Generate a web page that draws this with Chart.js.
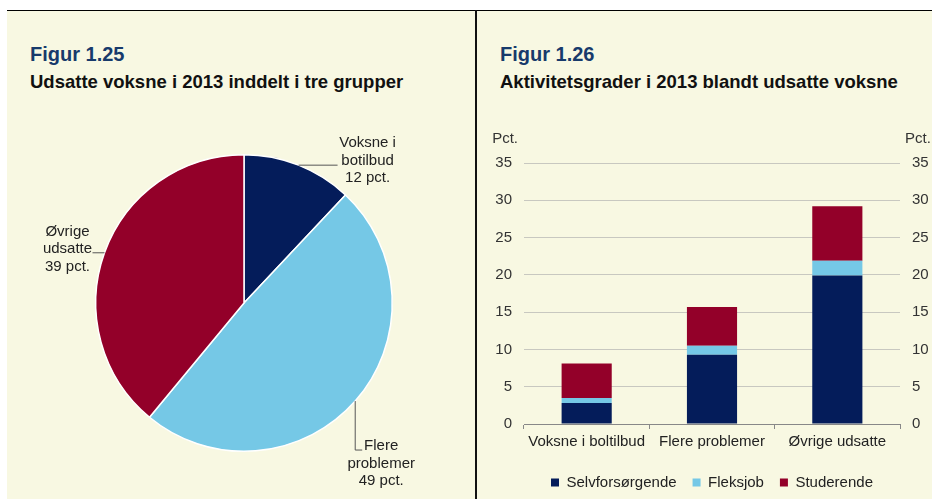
<!DOCTYPE html>
<html>
<head>
<meta charset="utf-8">
<script src="https://cdn.jsdelivr.net/npm/chart.js@4.4.0/dist/chart.umd.min.js"></script>
<style>
  html, body { margin: 0; padding: 0; background: #fff; }
  body { width: 932px; height: 499px; position: relative; overflow: hidden; font-family: "Liberation Sans", Arial, sans-serif; }
  #panel { position: absolute; left: 7px; top: 10px; width: 925px; height: 489px; background: #F8F8E2; border-top: 1px solid #000; }
  #divider { position: absolute; left: 475px; top: 10px; width: 2px; height: 489px; background: #111; }
  .fig { position: absolute; font-weight: bold; font-size: 20px; line-height: 20px; color: #173A6B; white-space: nowrap; }
  .sub { position: absolute; font-weight: bold; font-size: 18.5px; line-height: 18px; color: #111; white-space: nowrap; }
  canvas { position: absolute; }
</style>
</head>
<body>
<div id="panel"></div>
<div id="divider"></div>

<div class="fig" style="left:30px; top:44px;">Figur 1.25</div>
<div class="sub" style="left:30px; top:73px;">Udsatte voksne i 2013 inddelt i tre grupper</div>
<div class="fig" style="left:500px; top:44px;">Figur 1.26</div>
<div class="sub" style="left:500px; top:73px;">Aktivitetsgrader i 2013 blandt udsatte voksne</div>

<canvas id="pieChart" width="468" height="399" style="left:7px; top:100px;"></canvas>
<canvas id="barChart" width="470" height="390" style="left:484px; top:110px;"></canvas>

<script>
// Figur 1.25 - fordeling af udsatte voksne
const pieLabels = ['Voksne i botilbud', 'Flere problemer', 'Øvrige udsatte'];
const pieLines = [['Voksne i', 'botilbud'], ['Flere', 'problemer'], ['Øvrige', 'udsatte']];
const pieValues = [12, 49, 39];

// Figur 1.26 - aktivitetsgrader (pct.)
const barCategories = ['Voksne i boltilbud', 'Flere problemer', 'Øvrige udsatte'];
const selvforsorgende = [2.8, 9.3, 19.9];
const fleksjob = [0.7, 1.2, 2.0];
const studerende = [4.6, 5.2, 7.3];
const yMin = 0, yMax = 35, yStep = 5;

const NAVY = '#041C5A', LIGHT = '#75C8E6', RED = '#930029';
const FONT = '"Liberation Sans", Arial, sans-serif';

Chart.defaults.font.family = FONT;
Chart.defaults.font.size = 15;
Chart.defaults.color = '#333';

// leader lines: path steps from the slice edge, then text offset (first line centre)
const leaderStyle = [
    { path: [[39, 0]], text: [30, -22] },
    { path: [[0, 49], [7, 0]], text: [19, -4] },
    { path: [[-12, 0]], text: [-25, -21] }
];

const pieLabelPlugin = {
    id: 'pieLabels',
    afterDatasetsDraw(chart) {
        const ctx = chart.ctx;
        const meta = chart.getDatasetMeta(0);
        ctx.save();
        ctx.strokeStyle = '#555';
        ctx.lineWidth = 1;
        ctx.fillStyle = '#222';
        ctx.font = '15px ' + FONT;
        ctx.textAlign = 'center';
        ctx.textBaseline = 'middle';
        meta.data.forEach((arc, i) => {
            const p = arc.getProps(['x', 'y', 'startAngle', 'endAngle', 'outerRadius'], true);
            const mid = (p.startAngle + p.endAngle) / 2;
            let px = p.x + Math.cos(mid) * p.outerRadius;
            let py = p.y + Math.sin(mid) * p.outerRadius;
            ctx.beginPath();
            ctx.moveTo(px, py);
            leaderStyle[i].path.forEach(([dx, dy]) => {
                px += dx; py += dy;
                ctx.lineTo(px, py);
            });
            ctx.stroke();
            const lines = pieLines[i].concat([pieValues[i] + ' pct.']);
            lines.forEach((t, k) => {
                ctx.fillText(t, px + leaderStyle[i].text[0], py + leaderStyle[i].text[1] + k * 17.5);
            });
        });
        ctx.restore();
    }
};

new Chart(document.getElementById('pieChart'), {
    type: 'pie',
    data: {
        labels: pieLabels,
        datasets: [{
            data: pieValues,
            backgroundColor: [NAVY, LIGHT, RED],
            borderColor: '#fff',
            borderWidth: 1.5
        }]
    },
    options: {
        responsive: false,
        animation: false,
        layout: { padding: { left: 88, right: 82, top: 54, bottom: 47 } },
        plugins: { legend: { display: false }, tooltip: { enabled: false } }
    },
    plugins: [pieLabelPlugin]
});

// "Pct." over both value axes
const pctPlugin = {
    id: 'pctLabels',
    afterDraw(chart) {
        const ctx = chart.ctx;
        const area = chart.chartArea;
        ctx.save();
        ctx.fillStyle = '#333';
        ctx.font = '15px ' + FONT;
        ctx.textBaseline = 'middle';
        ctx.textAlign = 'right';
        ctx.fillText('Pct.', area.left - 6, area.top - 24);
        ctx.textAlign = 'left';
        ctx.fillText('Pct.', area.right + 5, area.top - 24);
        ctx.restore();
    }
};

const yTickOpts = { stepSize: yStep, padding: 12, color: '#333', font: { size: 15 } };

new Chart(document.getElementById('barChart'), {
    type: 'bar',
    data: {
        labels: barCategories,
        datasets: [
            { label: 'Selvforsørgende', data: selvforsorgende, backgroundColor: NAVY },
            { label: 'Fleksjob', data: fleksjob, backgroundColor: LIGHT },
            { label: 'Studerende', data: studerende, backgroundColor: RED }
        ]
    },
    options: {
        responsive: false,
        animation: false,
        layout: { padding: { top: 53, left: 0, right: 14, bottom: 0 } },
        datasets: { bar: { categoryPercentage: 1, barPercentage: 0.4 } },
        scales: {
            x: {
                stacked: true,
                grid: { offset: true, drawOnChartArea: false, tickLength: 5, color: '#888' },
                border: { color: '#888' },
                ticks: { padding: 4, color: '#222', font: { size: 15 } },
                afterFit: s => { s.height = 35; }
            },
            y: {
                stacked: true,
                min: yMin, max: yMax,
                ticks: yTickOpts,
                grid: { color: '#C8C8C0', drawTicks: false },
                border: { display: false },
                afterFit: s => { s.width = 40; }
            },
            y2: {
                position: 'right',
                min: yMin, max: yMax,
                ticks: yTickOpts,
                grid: { display: false, drawTicks: false },
                border: { display: false },
                afterFit: s => { s.width = 40; }
            }
        },
        plugins: {
            tooltip: { enabled: false },
            legend: {
                position: 'bottom',
                labels: { boxWidth: 8, boxHeight: 8, padding: 16, color: '#222', font: { size: 15 } }
            }
        }
    },
    plugins: [pctPlugin]
});
</script>
</body>
</html>
